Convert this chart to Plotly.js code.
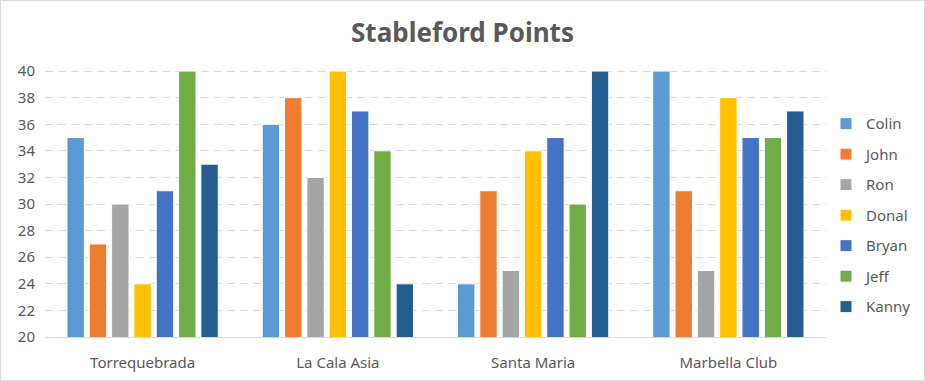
<!DOCTYPE html>
<html><head><meta charset="utf-8">
<script src="https://cdn.plot.ly/plotly-3.0.1.min.js"></script>
<style>html,body{margin:0;padding:0;background:#fff;}#chart{width:925px;height:381px;box-sizing:border-box;border:1px solid #D9D9D9;}</style>
</head><body><div id="chart"></div>
<script>
const categories = ["Torrequebrada", "La Cala Asia", "Santa Maria", "Marbella Club"];
const seriesNames = ["Colin", "John", "Ron", "Donal", "Bryan", "Jeff", "Kanny"];
const colin = [35, 36, 24, 40];
const john  = [27, 38, 31, 31];
const ron   = [30, 32, 25, 25];
const donal = [24, 40, 34, 38];
const bryan = [31, 37, 35, 35];
const jeff  = [40, 34, 30, 35];
const kanny = [33, 24, 40, 37];
const yTicks = [20, 22, 24, 26, 28, 30, 32, 34, 36, 38, 40];
const colors = ["#5B9BD5", "#ED7D31", "#A5A5A5", "#FFC000", "#4472C4", "#70AD47", "#255E91"];
const values = [colin, john, ron, donal, bryan, jeff, kanny];

const traces = values.map((v, i) => ({
  type: "bar", name: seriesNames[i], x: categories, y: v,
  legendgroup: "g" + i,
  marker: {color: colors[i], line: {color: "#FFFFFF", width: 1}},
  hoverinfo: "skip"
}));

const layout = {
  width: 923, height: 379,
  margin: {l: 44, r: 98, t: 69, b: 43, autoexpand: false},
  paper_bgcolor: "#fff", plot_bgcolor: "#fff",
  font: {family: "Noto Sans, Open Sans, sans-serif", size: 15, color: "#595959"},
  title: {text: "<b>Stableford Points</b>", x: 0.5, xanchor: "center", y: 0.915, yanchor: "middle",
          font: {size: 26, color: "#595959", family: "Noto Sans, Open Sans, sans-serif"}},
  barmode: "group", bargap: 0.2, bargroupgap: 0.22,
  xaxis: {type: "category", showgrid: false, zeroline: false, showline: true, linecolor: "#D9D9D9", linewidth: 1,
          ticks: "", ticklabelstandoff: 12, tickfont: {size: 15, color: "#595959"}},
  yaxis: {range: [20, 40.08], tickvals: yTicks,
          showgrid: true, gridcolor: "#D9D9D9", griddash: "8px,5px", gridwidth: 1,
          zeroline: false, showline: false, ticks: "", ticklabelstandoff: 9, tickfont: {size: 15, color: "#595959"}},
  legend: {x: 1.0, xanchor: "left", y: 0.86, yanchor: "top", font: {size: 15, color: "#595959"},
           tracegroupgap: 8, itemwidth: 30, itemclick: false},
  showlegend: true
};
Plotly.newPlot("chart", traces, layout, {displayModeBar: false, staticPlot: true});
</script></body></html>
